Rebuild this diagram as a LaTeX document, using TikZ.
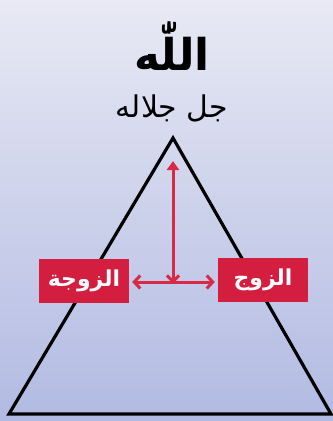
\documentclass[tikz,border=0pt]{standalone}
\usepackage{fontspec}
\newfontfamily\arabicfont[Script=Arabic]{DejaVu Sans}
\TeXXeTstate=1
\usetikzlibrary{arrows.meta}
\definecolor{bgtop}{HTML}{E8E9F4}
\definecolor{bgbot}{HTML}{B1BAE2}
\definecolor{boxred}{HTML}{D31E40}
\definecolor{arrred}{HTML}{D82A47}
\tikzset{
  redbox/.style={fill=boxred, draw=none, minimum width=90bp, minimum height=44bp, inner sep=0pt,
     text=white, font=\arabicfont\bfseries\fontsize{22}{26}\selectfont},
  redarrow/.style={draw=arrred, line width=3bp},
  tri/.style={draw=black, line width=3.2bp, line join=miter}
}
\begin{document}
\begin{tikzpicture}[x=1bp,y=-1bp]
\useasboundingbox (0,0) rectangle (333,421);
\shade[top color=bgtop, bottom color=bgbot] (0,0) rectangle (333,421);
\coordinate (apex) at (173,138);
\coordinate (bl) at (9,414);
\coordinate (br) at (331,414);
\draw[tri] (apex) -- (bl) -- (br) -- cycle;
\node (allah) at (172,46) {\arabicfont\bfseries\fontsize{44}{52}\selectfont\beginR اللّٰه\endR};
\node (jalla) at (172,108) {\arabicfont\fontsize{30}{36}\selectfont\beginR جل جلاله\endR};
\node[redbox] (wife) at (84,281) {\beginR الزوجة\endR};
\node[redbox] (husband) at (263,280) {\beginR الزوج\endR};
\coordinate (mid) at (173,282);
\coordinate (top) at (173,161);
\draw[redarrow, {Triangle[length=9bp,width=12bp]}-{Straight Barb[length=6bp,width=12bp]}] (top) -- ([yshift=-1.5bp]mid);
\draw[redarrow, {Straight Barb[length=6bp,width=13bp]}-{Straight Barb[length=6bp,width=13bp]}] ([xshift=3bp]wife.east |- mid) -- ([xshift=-3bp]husband.west |- mid);
\end{tikzpicture}
\end{document}
